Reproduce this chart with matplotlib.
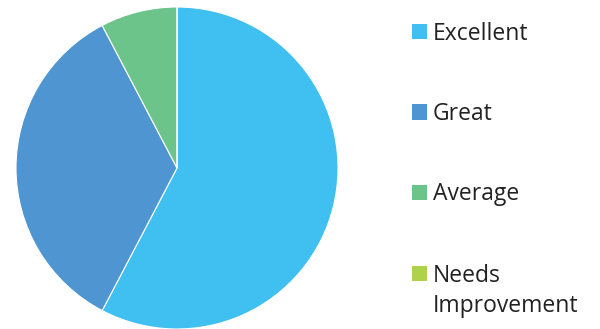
import matplotlib.pyplot as plt
from matplotlib.patches import Rectangle

labels = ["Excellent", "Great", "Average", "Needs\nImprovement"]
counts = [15, 9, 2, 0]
colors = ["#3FC0F0", "#4F95D2", "#6CC48A", "#AED24A"]

W, H = 600, 329
fig = plt.figure(figsize=(W / 100, H / 100), dpi=100)

# pie: centre (177,168) px, radius 161 px
cx, cy, r = 177, 168, 161
ax = fig.add_axes([(cx - r) / W, (H - cy - r) / H, 2 * r / W, 2 * r / H])
ax.pie(counts, colors=colors, startangle=90, counterclock=False, radius=1,
       wedgeprops=dict(edgecolor="white", linewidth=0.8))
ax.set_xlim(-1, 1)
ax.set_ylim(-1, 1)
ax.set_aspect("equal")
ax.axis("off")

# legend drawn by hand so the square sits on the first line of each label
box = 15
row_y = [31.5, 112, 192.5, 273.5]
for lab, col, yc in zip(labels, colors, row_y):
    fig.add_artist(Rectangle((412 / W, (H - yc - box / 2) / H), box / W, box / H,
                             transform=fig.transFigure, facecolor=col, edgecolor="none"))
    for i, line in enumerate(lab.split("\n")):
        base = yc + 8 + i * 30
        fig.text(433 / W, (H - base) / H, line, fontsize=16.5, family="Open Sans",
                 color="#222222", va="baseline", ha="left")

fig.savefig("out.png", dpi=100)
